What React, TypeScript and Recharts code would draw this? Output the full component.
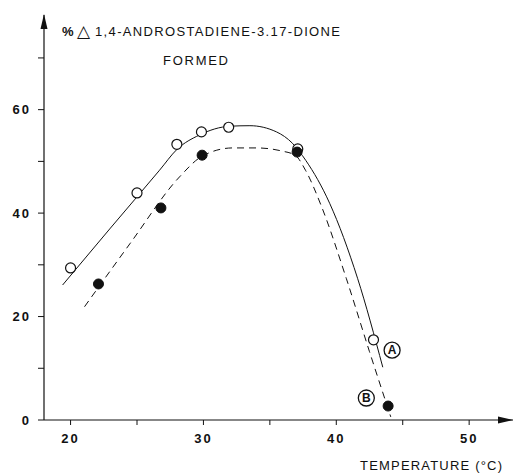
import {
  ComposedChart,
  Line,
  ReferenceDot,
  Scatter,
  XAxis,
  YAxis,
} from "recharts";

// measured points, curve A (open circles) and curve B (filled)
const A_TEMP = [20, 25, 28, 29.85, 31.9, 37.1, 42.8];
const A_PCT = [29.4, 43.9, 53.3, 55.7, 56.6, 52.4, 15.5];
const B_TEMP = [22.1, 26.8, 29.9, 37.05, 43.9];
const B_PCT = [26.3, 41.0, 51.2, 51.8, 2.7];

// hand-drawn fitted curves
const CURVE_A_TEMP = [19.4, 23, 26.7, 28, 29.7, 32, 33.5, 35.5, 36.7, 37.7, 39.5, 41.6, 43.5];
const CURVE_A_PCT = [26.1, 37.1, 48.3, 52.3, 55.1, 56.8, 56.9, 55.7, 53.5, 50.2, 41.9, 27.4, 10.2];
const CURVE_B_TEMP = [21.05, 24.5, 28.2, 29.9, 32.2, 34, 35.9, 36.9, 37.7, 38.9, 40.75, 42.5, 44.1];
const CURVE_B_PCT = [21.9, 34.2, 47.0, 51.0, 52.6, 52.6, 52.0, 51.2, 48.2, 41.2, 27.4, 13.2, 0.6];

const X_TICKS = [20, 25, 30, 35, 40, 45, 50];
const X_LABELS = [20, 30, 40, 50];
const Y_TICKS = [0, 10, 20, 30, 40, 50, 60, 70];
const Y_LABELS = [0, 20, 40, 60];

const toRows = (xs: number[], ys: number[]) => xs.map((x, i) => ({ x, y: ys[i] }));

const pointsA = toRows(A_TEMP, A_PCT);
const pointsB = toRows(B_TEMP, B_PCT);
const curveA = toRows(CURVE_A_TEMP, CURVE_A_PCT);
const curveB = toRows(CURVE_B_TEMP, CURVE_B_PCT);

const FONT = "'Liberation Sans', Arial, sans-serif";

function XTick(props: any) {
  const v = props.payload.value;
  if (!X_LABELS.includes(v)) return null;
  return (
    <text x={props.x} y={props.y} dy="0.71em" textAnchor="middle" fontFamily={FONT} fontWeight="bold" fontSize={13} letterSpacing={2} fill="#111">
      {v}
    </text>
  );
}

function YTick(props: any) {
  const v = props.payload.value;
  if (!Y_LABELS.includes(v)) return null;
  return (
    <text x={props.x} y={props.y} dy="0.355em" textAnchor="end" fontFamily={FONT} fontWeight="bold" fontSize={13} letterSpacing={2} fill="#111">
      {v}
    </text>
  );
}

const openDot = (p: any) => <circle cx={p.cx} cy={p.cy} r={5} fill="#fff" stroke="#111" strokeWidth={1.2} />;
const filledDot = (p: any) => <circle cx={p.cx} cy={p.cy} r={5} fill="#111" stroke="#111" />;

export default function App() {
  return (
    <div style={{ position: "fixed", left: 0, top: 0, background: "#fff" }}>
      <ComposedChart width={515} height={474} margin={{ top: 15, right: 2, left: 0, bottom: 0 }}>
        <XAxis
          type="number"
          dataKey="x"
          domain={[18, 53.3]}
          ticks={X_TICKS}
          interval={0}
          tickSize={5}
          tickMargin={9}
          height={54}
          tick={<XTick />}
          tickLine={{ stroke: "#111" }}
          axisLine={{ stroke: "#111", strokeWidth: 1.2 }}
          allowDuplicatedCategory={false}
        />
        <YAxis
          type="number"
          dataKey="y"
          domain={[0, 78.3]}
          ticks={Y_TICKS}
          interval={0}
          width={44}
          tickSize={6}
          tickMargin={7}
          tick={<YTick />}
          tickLine={{ stroke: "#111" }}
          axisLine={{ stroke: "#111", strokeWidth: 1.2 }}
        />
        <Line data={curveA} dataKey="y" type="monotone" stroke="#111" strokeWidth={1} dot={false} isAnimationActive={false} />
        <Line data={curveB} dataKey="y" type="monotone" stroke="#111" strokeWidth={1} strokeDasharray="7 5" dot={false} isAnimationActive={false} />
        <Scatter data={pointsA} dataKey="y" shape={openDot} isAnimationActive={false} />
        <Scatter data={pointsB} dataKey="y" shape={filledDot} isAnimationActive={false} />
        <ReferenceDot x={44.2} y={13.5} r={8} fill="#fff" stroke="#111" strokeWidth={1.3}
          label={{ value: "A", position: "center", fontFamily: FONT, fontWeight: "bold", fontSize: 12, fill: "#111" }} />
        <ReferenceDot x={42.26} y={4.25} r={8} fill="#fff" stroke="#111" strokeWidth={1.3}
          label={{ value: "B", position: "center", fontFamily: FONT, fontWeight: "bold", fontSize: 12, fill: "#111" }} />
        {/* axis arrowheads */}
        <path d="M513,420 L498,416.5 L498,423.5 Z" fill="#111" />
        <path d="M44,14 L40.5,29 L47.5,29 Z" fill="#111" />
        <text x={62} y={36} fontFamily={FONT} fontWeight="bold" fontSize={13} fill="#111">%</text>
        <text x={77} y={37} fontFamily="'DejaVu Sans', sans-serif" fontSize={17} fill="#111">△</text>
        <text x={95} y={36} fontFamily={FONT} fontSize={13} fill="#111" textLength={245} lengthAdjust="spacing">
          1,4-ANDROSTADIENE-3.17-DIONE
        </text>
        <text x={163} y={65} fontFamily={FONT} fontSize={13} fill="#111" textLength={65} lengthAdjust="spacing">
          FORMED
        </text>
        <text x={360} y={470} fontFamily={FONT} fontSize={13} fill="#111" textLength={142} lengthAdjust="spacing">
          TEMPERATURE (°C)
        </text>
      </ComposedChart>
    </div>
  );
}
